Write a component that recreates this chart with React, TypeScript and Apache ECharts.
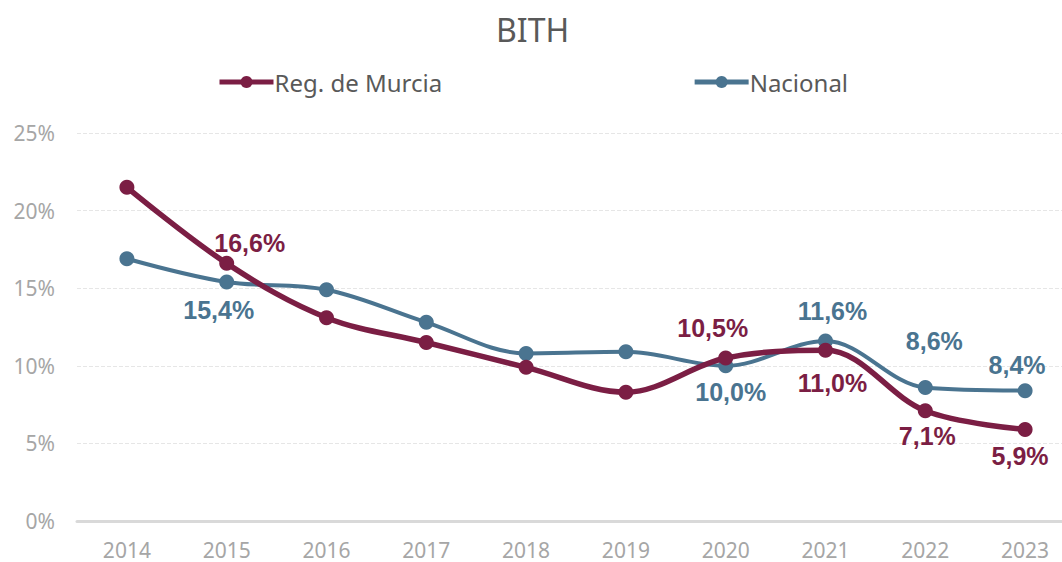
import React, { useEffect, useRef } from "react";
import * as echarts from "echarts";

const years = ["2014", "2015", "2016", "2017", "2018", "2019", "2020", "2021", "2022", "2023"];
const murcia = [21.5, 16.6, 13.1, 11.5, 9.9, 8.3, 10.5, 11.0, 7.1, 5.9];
const nacional = [16.9, 15.4, 14.9, 12.8, 10.8, 10.9, 10.0, 11.6, 8.6, 8.4];
const yTicks = [0, 5, 10, 15, 20, 25];

// label placement per point index: [position, offsetX, offsetY]
const murciaLabels: Record<number, [string, number, number]> = {
  1: ["top", 23, 8],
  6: ["top", -13, -2],
  7: ["bottom", 7, 5],
  8: ["bottom", 2, -3],
  9: ["bottom", -5, -1],
};
const nacionalLabels: Record<number, [string, number, number]> = {
  1: ["bottom", -8, 0],
  6: ["bottom", 5, -2],
  7: ["top", 7, -2],
  8: ["top", 9, -19],
  9: ["top", -8, 2],
};

const fmt = (v: number) => v.toFixed(1).replace(".", ",") + "%";

function buildData(values: number[], labels: Record<number, [string, number, number]>, color: string) {
  return values.map((v, i) => {
    const l = labels[i];
    if (!l) return v;
    return {
      value: v,
      label: {
        show: true,
        position: l[0],
        offset: [l[1], l[2]],
        formatter: () => fmt(v),
        color,
        fontWeight: "bold",
        fontSize: 25,
        fontFamily: "Liberation Sans, Arial, sans-serif",
        distance: 8,
      },
    };
  });
}

export default function App() {
  const ref = useRef<HTMLDivElement>(null);
  useEffect(() => {
    if (!ref.current) return;
    const chart = echarts.init(ref.current, null, { renderer: "svg" });
    const cM = "#7B1E44";
    const cN = "#4A7490";
    const font = "Noto Sans, Open Sans, sans-serif";
    chart.setOption({
      animation: false,
      backgroundColor: "#ffffff",
      title: {
        text: "BITH",
        left: 491,
        top: 8,
        textStyle: { fontSize: 32, fontWeight: "normal", color: "#595959", fontFamily: font },
      },
      legend: {
        top: 65,
        left: 212,
        itemGap: 250,
        itemWidth: 54,
        itemHeight: 15,
        lineStyle: { width: 5 },
        textStyle: { fontSize: 24, color: "#595959", fontFamily: font, padding: [0, 0, 0, -4] },
        data: ["Reg. de Murcia", "Nacional"],
      },
      grid: { left: 77, right: 0, top: 133, bottom: 41, containLabel: false },
      xAxis: {
        type: "category",
        data: years,
        boundaryGap: true,
        axisLine: { lineStyle: { color: "#D9D9D9", width: 3 } },
        axisTick: { show: false },
        axisLabel: { color: "#A6A6A6", fontSize: 21, margin: 18, fontFamily: font },
      },
      yAxis: {
        type: "value",
        min: yTicks[0],
        max: yTicks[yTicks.length - 1],
        interval: 5,
        axisLine: { show: false },
        axisTick: { show: false },
        splitLine: { lineStyle: { color: "#E6E6E6", type: "dashed", width: 1 } },
        axisLabel: {
          color: "#A6A6A6",
          fontSize: 21,
          margin: 22,
          fontFamily: font,
          formatter: (v: number) => v + "%",
        },
      },
      series: [
        {
          name: "Reg. de Murcia",
          type: "line",
          smooth: 0.35,
          data: buildData(murcia, murciaLabels, cM),
          symbol: "circle",
          symbolSize: 15,
          itemStyle: { color: cM },
          lineStyle: { color: cM, width: 5.5 },
          z: 3,
        },
        {
          name: "Nacional",
          type: "line",
          smooth: 0.35,
          data: buildData(nacional, nacionalLabels, cN),
          symbol: "circle",
          symbolSize: 15,
          itemStyle: { color: cN },
          lineStyle: { color: cN, width: 4 },
          z: 2,
        },
      ],
    });
    return () => chart.dispose();
  }, []);
  return (
    <div style={{ position: "absolute", left: 0, top: 0, width: 1062, height: 562, overflow: "hidden" }}>
      <div ref={ref} style={{ width: 1075, height: 562 }} />
    </div>
  );
}
